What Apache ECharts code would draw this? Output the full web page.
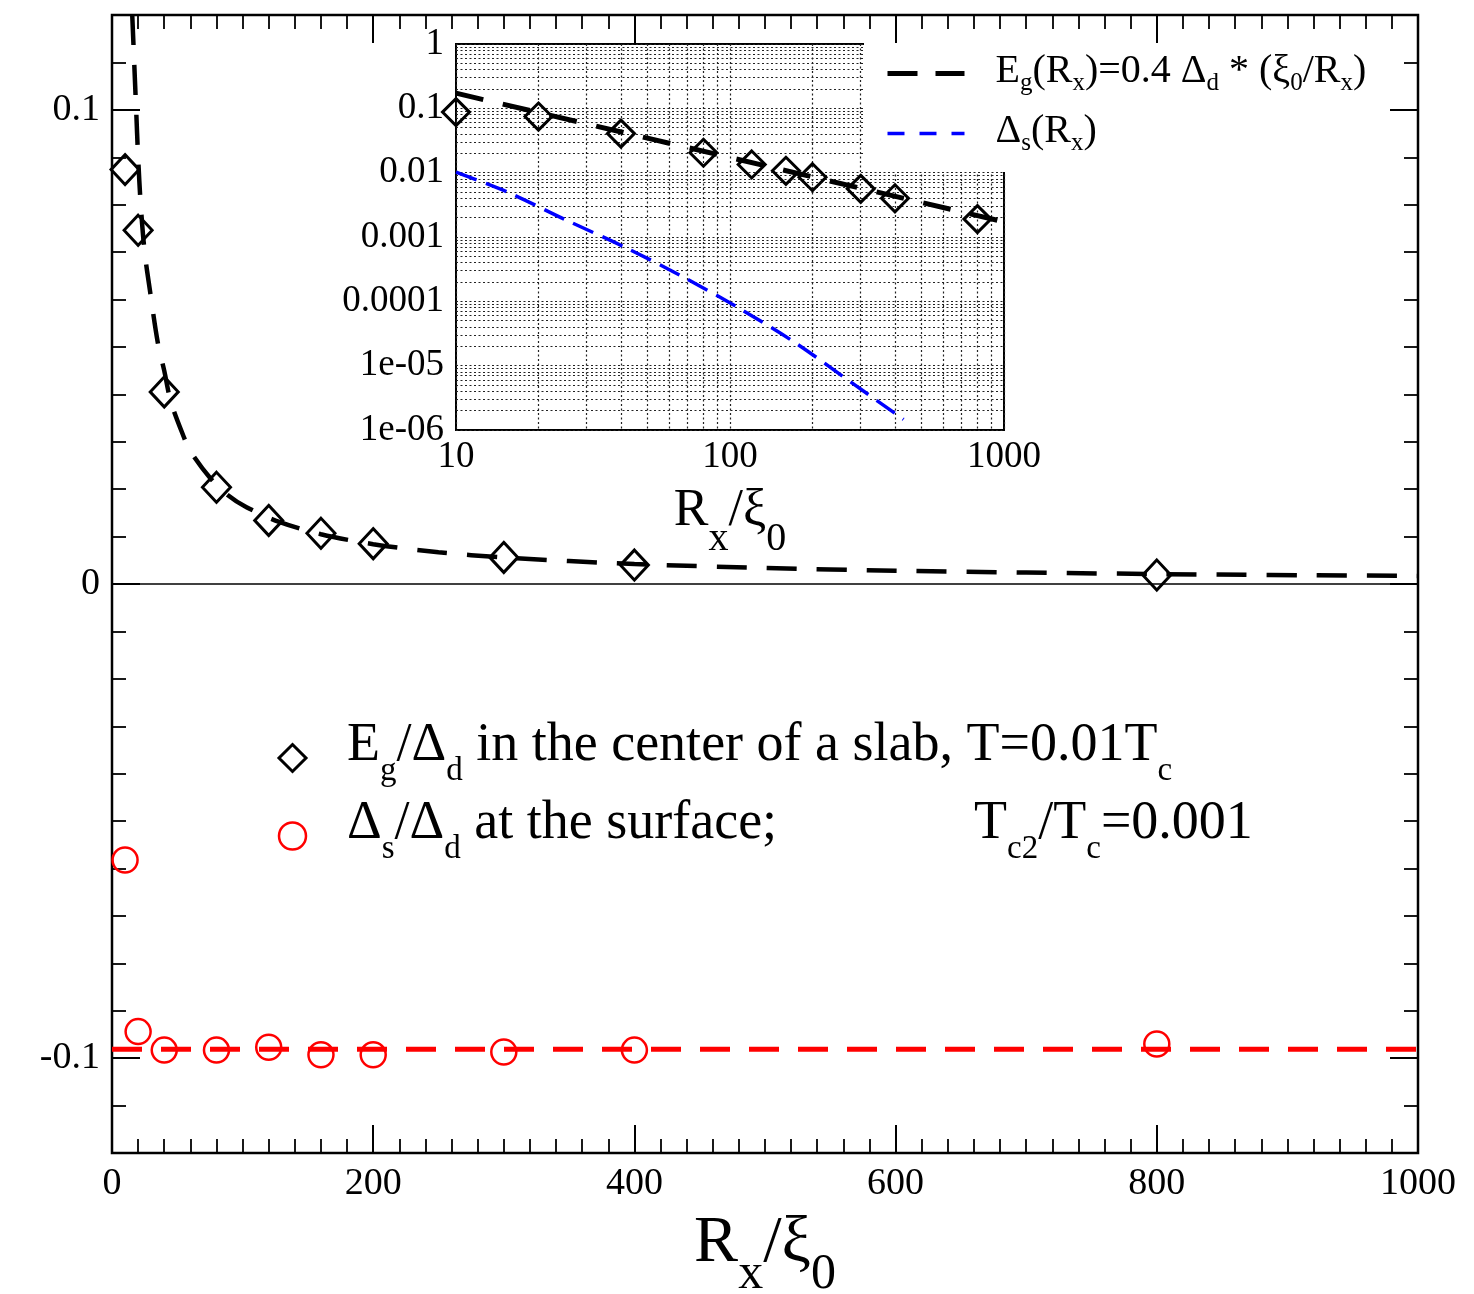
<!DOCTYPE html>
<html><head><meta charset="utf-8">
<script src="https://cdn.jsdelivr.net/npm/echarts@6/dist/echarts.min.js"></script>
<style>html,body{margin:0;padding:0;background:#fff}#c{width:1474px;height:1294px}</style>
</head><body><div id="c"></div><script>
// ---------------- data ----------------
const rx        = [10, 20, 40, 80, 120, 160, 200, 300, 400, 800];
const egCenter  = [0.0874, 0.0746, 0.0405, 0.0204, 0.0134, 0.0107, 0.0085, 0.0056, 0.0040, 0.0019];
const dsSurface = [-0.0582, -0.0944, -0.0983, -0.0983, -0.0977, -0.0993, -0.0993, -0.0987, -0.0983, -0.0970];
// dashed fit curve in the main panel
const fitMainX = [15.5, 17, 18.5, 20, 22, 25, 29, 35, 40, 45, 55, 60, 75, 88, 103, 128, 160, 200, 250, 300, 400, 500, 600, 800, 1000];
const fitMainY = [0.120, 0.110, 0.100, 0.090, 0.080, 0.070, 0.062, 0.051, 0.045, 0.0385, 0.031, 0.0280, 0.0224, 0.0189, 0.0162, 0.0131, 0.0105, 0.0084, 0.0067, 0.0056, 0.0042, 0.0034, 0.0028, 0.0021, 0.0017];
// red dashed level
const dsLevelX = [0, 1000];
const dsLevelY = [-0.0981, -0.0981];
// inset curves
const fitInsetX = [10, 20, 50, 100, 200, 500, 1000];
const fitInsetY = [0.172, 0.086, 0.0344, 0.0172, 0.0086, 0.00344, 0.00172];
const dsCurveX = [10, 15.4, 24.8, 41.4, 66.8, 108, 175, 282, 430];
const dsCurveY = [0.0102, 0.0050, 0.0019, 0.00069, 0.000245, 0.000078, 0.000022, 0.0000052, 0.00000146];
// tick labels
const mainXTicks = [0, 200, 400, 600, 800, 1000];
const mainYTicks = [-0.1, 0, 0.1];
const mainYTickLabels = ['-0.1', '0', '0.1'];
const insetXTicks = [10, 100, 1000];
const insetXTickLabels = ['10', '100', '1000'];
const insetYTicks = [1e-6, 1e-5, 1e-4, 1e-3, 1e-2, 1e-1, 1];
const insetYTickLabels = ['1e-06', '1e-05', '0.0001', '0.001', '0.01', '0.1', '1'];

// ---------------- helpers ----------------
const FONT = 'Liberation Serif';
const pairs = (xs, ys) => xs.map((x, i) => [x, ys[i]]);
function decadeGrid(decades) {
  const out = [];
  for (let i = 0; i < decades.length - 1; i++)
    for (let m = 1; m < 10; m++) out.push(+(m * decades[i]).toPrecision(6));
  out.push(decades[decades.length - 1]);
  return out;
}
function labelFor(v, ticks, labels, log) {
  for (let i = 0; i < ticks.length; i++) {
    const t = ticks[i];
    if (log ? Math.abs(Math.log10(v) - Math.log10(t)) < 1e-6 : Math.abs(v - t) < 1e-9) return labels[i];
  }
  return '';
}
const insetXGrid = decadeGrid(insetXTicks);
const insetYGrid = decadeGrid(insetYTicks);

const blk = '#000';
const majorTick = { show: true, inside: true, length: 28, lineStyle: { color: blk, width: 2 } };
const minorTickY = { show: true, inside: true, length: 14, lineStyle: { color: blk, width: 1.8 } };
const minorTickX = { show: true, splitNumber: 10, length: 14, lineStyle: { color: blk, width: 1.8 } };
const gridDot = { show: true, lineStyle: { color: '#222', width: 1.2, type: [2, 2.5] } };

const titleRich = {
  a: { fontFamily: FONT, fontSize: 66, lineHeight: 76, color: blk },
  s: { fontFamily: FONT, fontSize: 50, lineHeight: 76, color: blk, padding: [61, 0, 0, 0] }
};
const insetTitleRich = {
  a: { fontFamily: FONT, fontSize: 52, lineHeight: 56, color: blk },
  s: { fontFamily: FONT, fontSize: 40, lineHeight: 56, color: blk, padding: [56, 0, 0, 0] }
};
const mainLegRich = {
  n0: { fontFamily: FONT, fontSize: 54, lineHeight: 60, color: blk, padding: [0, 0, 24, 36] },
  n: { fontFamily: FONT, fontSize: 54, lineHeight: 60, color: blk, padding: [0, 0, 24, 0] },
  g: { fontFamily: FONT, fontSize: 54, lineHeight: 60, color: blk, padding: [0, 0, 24, 197] },
  s: { fontFamily: FONT, fontSize: 33, lineHeight: 60, color: blk, padding: [26, 0, 0, 0] }
};
const insetLegRich = {
  n0: { fontFamily: FONT, fontSize: 40, lineHeight: 44, color: blk, padding: [0, 0, 4, 26] },
  n: { fontFamily: FONT, fontSize: 40, lineHeight: 44, color: blk, padding: [0, 0, 4, 0] },
  s: { fontFamily: FONT, fontSize: 25, lineHeight: 44, color: blk, padding: [20, 0, 0, 0] }
};
const legendText = {
  diam: '{n0|E}{s|g}{n|/Δ}{s|d}{n| in the center of a slab, T=0.01T}{s|c}',
  circ: '{n0|Δ}{s|s}{n|/Δ}{s|d}{n| at the surface;}{g|T}{s|c2}{n|/T}{s|c}{n|=0.001}',
  fitEg: '{n0|E}{s|g}{n|(R}{s|x}{n|)=0.4 Δ}{s|d}{n| * (ξ}{s|0}{n|/R}{s|x}{n|)}',
  fitDs: '{n0|Δ}{s|s}{n|(R}{s|x}{n|)}'
};

const chart = echarts.init(document.getElementById('c'), null, { renderer: 'canvas' });
chart.setOption({
  animation: false,
  backgroundColor: '#fff',
  textStyle: { fontFamily: FONT, color: blk },
  grid: [
    { left: 112, top: 15, width: 1306, height: 1138, show: true, borderColor: blk, borderWidth: 2.5,
      backgroundColor: 'transparent', containLabel: false, outerBoundsMode: 'none' },
    { left: 456, top: 44, width: 548, height: 386, show: true, borderColor: blk, borderWidth: 2,
      backgroundColor: '#fff', containLabel: false, outerBoundsMode: 'none' }
  ],
  xAxis: [
    { gridIndex: 0, type: 'value', min: 0, max: 1000, interval: 200, position: 'bottom',
      axisLine: { show: false, onZero: false }, axisTick: majorTick, minorTick: minorTickX,
      splitLine: { show: false }, minorSplitLine: { show: false },
      axisLabel: { fontFamily: FONT, fontSize: 38, color: blk, margin: 12,
        formatter: v => (mainXTicks.indexOf(v) >= 0 ? String(v) : '') },
      name: '{a|R}{s|x}{a|/ξ}{s|0}', nameLocation: 'middle', nameGap: 53, nameMoveOverlap: false,
      nameTextStyle: { rich: titleRich } },
    { gridIndex: 0, type: 'value', min: 0, max: 1000, interval: 200, position: 'top',
      axisLine: { show: false, onZero: false }, axisTick: majorTick, minorTick: minorTickX,
      splitLine: { show: false }, axisLabel: { show: false } },
    { gridIndex: 1, type: 'log', logBase: 10, min: 10, max: 1000, position: 'bottom',
      axisLine: { show: false, onZero: false },
      axisTick: { show: false, customValues: insetXGrid },
      splitLine: gridDot,
      axisLabel: { customValues: insetXTicks, fontFamily: FONT, fontSize: 37, color: blk, margin: 9,
        formatter: v => labelFor(v, insetXTicks, insetXTickLabels, true) },
      name: '{a|R}{s|x}{a|/ξ}{s|0}', nameLocation: 'middle', nameGap: 53, nameMoveOverlap: false,
      nameTextStyle: { rich: insetTitleRich } }
  ],
  yAxis: [
    { gridIndex: 0, type: 'value', min: -0.12, max: 0.12, interval: 0.01, position: 'left',
      axisLine: { show: false, onZero: false }, axisTick: minorTickY, splitLine: { show: false },
      axisLabel: { customValues: mainYTicks, fontFamily: FONT, fontSize: 38, color: blk, margin: 12,
        formatter: v => labelFor(v, mainYTicks, mainYTickLabels, false) } },
    { gridIndex: 0, type: 'value', min: -0.12, max: 0.12, position: 'left',
      axisLine: { show: false, onZero: false },
      axisTick: Object.assign({}, majorTick, { customValues: mainYTicks }),
      splitLine: { show: false }, axisLabel: { show: false } },
    { gridIndex: 0, type: 'value', min: -0.12, max: 0.12, interval: 0.01, position: 'right',
      axisLine: { show: false, onZero: false }, axisTick: minorTickY, splitLine: { show: false },
      axisLabel: { show: false } },
    { gridIndex: 0, type: 'value', min: -0.12, max: 0.12, position: 'right',
      axisLine: { show: false, onZero: false },
      axisTick: Object.assign({}, majorTick, { customValues: mainYTicks }),
      splitLine: { show: false }, axisLabel: { show: false } },
    { gridIndex: 1, type: 'log', logBase: 10, min: 1e-6, max: 1, position: 'left',
      axisLine: { show: false, onZero: false },
      axisTick: { show: false, customValues: insetYGrid },
      splitLine: gridDot,
      axisLabel: { customValues: insetYTicks, fontFamily: FONT, fontSize: 37, color: blk, margin: 12,
        formatter: v => labelFor(v, insetYTicks, insetYTickLabels, true) } }
  ],
  legend: [
    { id: 'insetLegend', orient: 'vertical', left: 864, top: 43, padding: [8, 12, 16, 21],
      itemGap: 15, itemWidth: 77, itemHeight: 14, backgroundColor: '#fff', selectedMode: false, z: 6,
      data: [
        { name: 'fitEg', itemStyle: { opacity: 0 }, lineStyle: { color: blk, width: 5, type: [30, 18] } },
        { name: 'fitDs', itemStyle: { opacity: 0 }, lineStyle: { color: '#0000ff', width: 3.5, type: [17, 15] } }
      ],
      formatter: n => legendText[n],
      textStyle: { fontFamily: FONT, fontSize: 40, color: blk, rich: insetLegRich } },
    { id: 'mainLegend', orient: 'vertical', left: 277.5, top: 719, padding: 0,
      itemGap: 0, itemWidth: 27, itemHeight: 27, selectedMode: false,
      data: [
        { name: 'diam', icon: 'diamond', itemStyle: { color: 'transparent', borderColor: blk, borderWidth: 3, opacity: 1 } },
        { name: 'circ', icon: 'circle', itemStyle: { color: 'transparent', borderColor: '#ff0000', borderWidth: 2.5, opacity: 1 } }
      ],
      formatter: n => legendText[n],
      textStyle: { fontFamily: FONT, fontSize: 54, color: blk, rich: mainLegRich } }
  ],
  series: [
    { name: 'dsLevel', type: 'line', xAxisIndex: 0, yAxisIndex: 0, data: pairs(dsLevelX, dsLevelY),
      symbol: 'none', silent: true, z: 2,
      lineStyle: { color: '#ff0000', width: 5, type: [30, 19] },
      markLine: { silent: true, symbol: 'none', label: { show: false },
        lineStyle: { color: blk, type: 'solid', width: 1.5 }, data: [{ yAxis: 0 }] } },
    { name: 'fitEg', type: 'line', xAxisIndex: 0, yAxisIndex: 0, data: pairs(fitMainX, fitMainY),
      symbol: 'none', smooth: 0.3, silent: true, z: 2, itemStyle: { color: blk },
      lineStyle: { color: blk, width: 4.5, type: [30, 20] } },
    { name: 'diam', type: 'scatter', xAxisIndex: 0, yAxisIndex: 0, data: pairs(rx, egCenter),
      symbol: 'diamond', symbolSize: [28, 30], silent: true, z: 4,
      itemStyle: { color: 'transparent', borderColor: blk, borderWidth: 3, opacity: 1 } },
    { name: 'circ', type: 'scatter', xAxisIndex: 0, yAxisIndex: 0, data: pairs(rx, dsSurface),
      symbol: 'circle', symbolSize: 25, silent: true, z: 4,
      itemStyle: { color: 'transparent', borderColor: '#ff0000', borderWidth: 2.5, opacity: 1 } },
    { name: 'fitEg', type: 'line', xAxisIndex: 2, yAxisIndex: 4, data: pairs(fitInsetX, fitInsetY),
      symbol: 'none', silent: true, z: 3, itemStyle: { color: blk },
      lineStyle: { color: blk, width: 5, type: [28, 20] } },
    { name: 'fitDs', type: 'line', xAxisIndex: 2, yAxisIndex: 4, data: pairs(dsCurveX, dsCurveY),
      symbol: 'none', smooth: 0.3, silent: true, z: 3, itemStyle: { color: '#0000ff' },
      lineStyle: { color: '#0000ff', width: 3.5, type: [22, 10] } },
    { name: 'diamInset', type: 'scatter', xAxisIndex: 2, yAxisIndex: 4, data: pairs(rx, egCenter),
      symbol: 'diamond', symbolSize: 27, silent: true, z: 4,
      itemStyle: { color: 'transparent', borderColor: blk, borderWidth: 3, opacity: 1 } }
  ]
});
</script></body></html>
